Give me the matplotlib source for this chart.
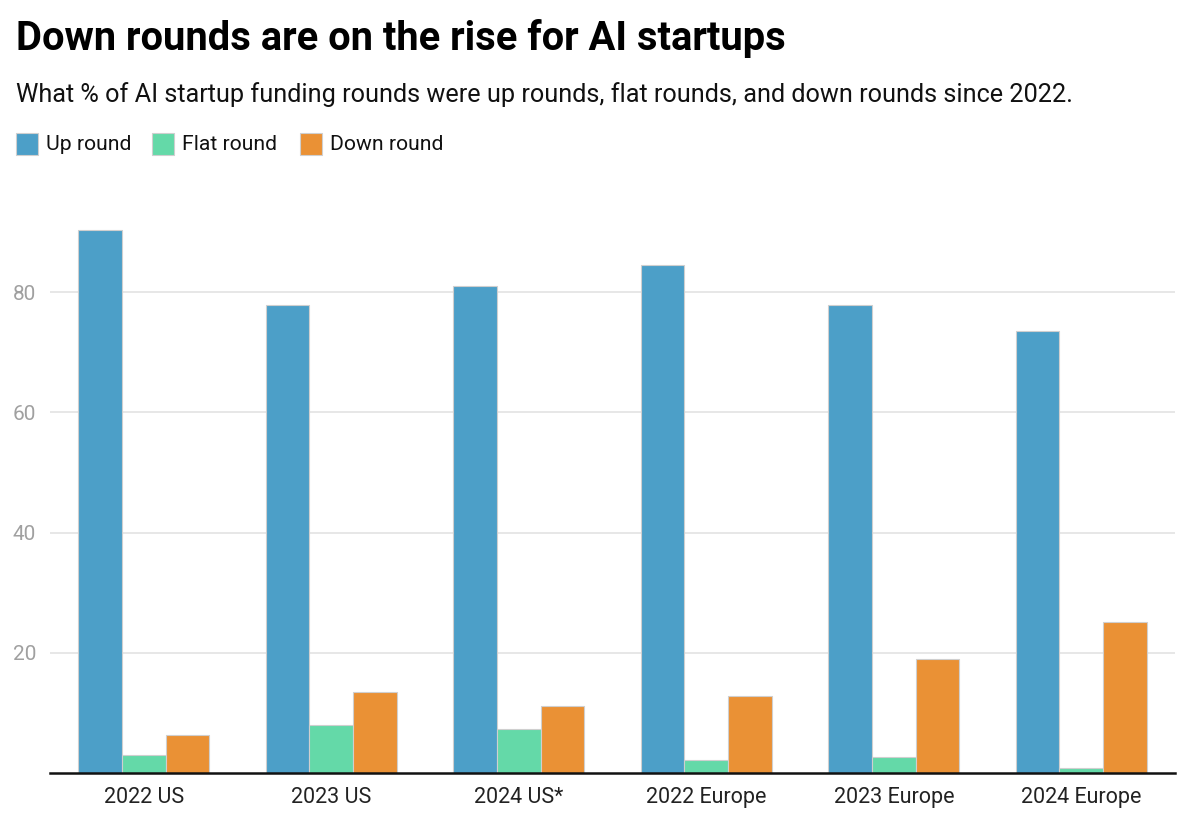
import matplotlib
matplotlib.use("Agg")
import matplotlib.pyplot as plt
from matplotlib.patches import Rectangle
import numpy as np

categories = ["2022 US", "2023 US", "2024 US*", "2022 Europe", "2023 Europe", "2024 Europe"]
series_names = ["Up round", "Flat round", "Down round"]
up_round = [90.3, 77.8, 81.0, 84.5, 77.8, 73.5]
flat_round = [3.0, 8.0, 7.3, 2.2, 2.7, 0.8]
down_round = [6.3, 13.5, 11.1, 12.8, 19.0, 25.1]
yticks = [20, 40, 60, 80]

colors = ["#4C9FC8", "#64D9A8", "#EA9135"]

plt.rcParams['font.family'] = ['Roboto', 'DejaVu Sans']

W, H = 1200, 836
fig = plt.figure(figsize=(12, 8.36), dpi=100)
ax = fig.add_axes([50 / W, 1 - 773 / H, (1175 - 50) / W, (773 - 202) / H])

x = np.arange(len(categories))
bw = 0.7 / 3
for i, (vals, c) in enumerate(zip([up_round, flat_round, down_round], colors)):
    ax.bar(x + (i - 1) * bw, vals, width=bw, color=c, edgecolor="#cfcfcf",
           linewidth=0.8, zorder=3)

ax.set_xlim(-0.5, len(categories) - 0.5)
ax.set_ylim(0, 95)
ax.set_yticks(yticks)
ax.set_yticklabels([str(v) for v in yticks], color="#a0a0a0", fontsize=15)
ax.set_xticks(x)
ax.set_xticklabels(categories, color="#222222", fontsize=15.5)
ax.tick_params(axis="both", length=0)
ax.tick_params(axis="y", pad=10)
ax.tick_params(axis="x", pad=10)
ax.grid(axis="y", color="#e3e3e3", linewidth=1.2, zorder=0)
for s in ["top", "right", "left"]:
    ax.spines[s].set_visible(False)
ax.spines["bottom"].set_color("#111111")
ax.spines["bottom"].set_linewidth(1.8)
ax.spines["bottom"].set_zorder(4)

fig.text(16 / W, 1 - 38 / H, "Down rounds are on the rise for AI startups",
         fontsize=28.7, fontweight="bold", color="#000000", va="center", ha="left")
fig.text(16 / W, 1 - 95 / H,
         "What % of AI startup funding rounds were up rounds, flat rounds, and down rounds since 2022.",
         fontsize=18.2, color="#111111", va="center", ha="left")

# legend
leg_x = [16, 152, 300]
for lx, name, c in zip(leg_x, series_names, colors):
    fig.patches.append(Rectangle((lx / W, 1 - 155 / H), 22 / W, 22 / H,
                                 transform=fig.transFigure, facecolor=c,
                                 edgecolor="#cfcfcf", linewidth=0.8))
    fig.text((lx + 30) / W, 1 - 144 / H, name, fontsize=15.2, color="#111111",
             va="center", ha="left")

fig.savefig("out.png", dpi=100)
